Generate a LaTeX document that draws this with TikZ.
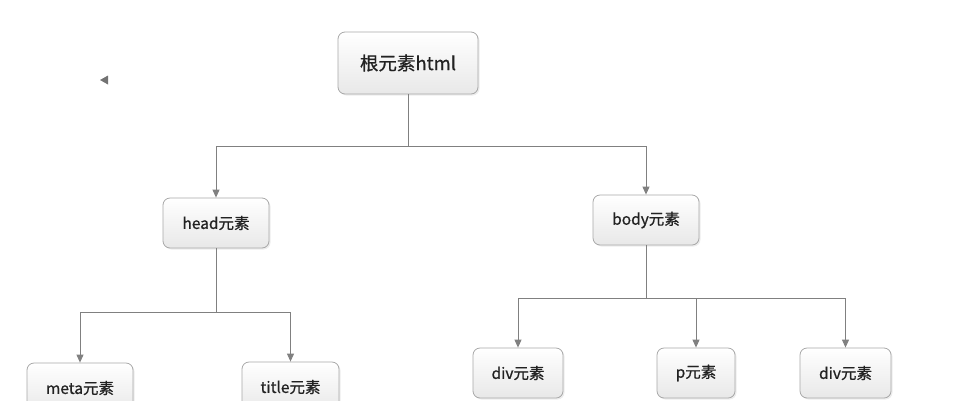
\documentclass[tikz,border=0pt]{standalone}
\usepackage{fontspec}
\setmainfont{Noto Sans CJK SC}[FakeBold=0.7]
\usetikzlibrary{arrows.meta,shadows}
\definecolor{linegray}{HTML}{808080}
\definecolor{boxgray}{HTML}{A8A8A8}
\definecolor{textgray}{HTML}{222222}
\tikzset{
  box/.style={draw=boxgray, line width=0.8pt, rounded corners=7pt,
    top color=white, bottom color=black!9, text=textgray,
    drop shadow={opacity=0.15, shadow xshift=1.5pt, shadow yshift=-1.5pt},
    inner sep=0pt, font=\fontsize{15.5}{18}\selectfont},
  conn/.style={draw=linegray, line width=1pt, -{Triangle[length=8pt,width=7pt]}},
  plain/.style={draw=linegray, line width=1pt}
}
\begin{document}
\begin{tikzpicture}[x=1pt,y=-1pt]
\useasboundingbox (0,0) rectangle (963,400);
\node[box, minimum width=140pt, minimum height=62pt, font=\fontsize{18.5}{22}\selectfont] (root) at (408,63) {根元素html};
\node[box, minimum width=106pt, minimum height=50pt] (head) at (216,223) {head元素};
\node[box, minimum width=106pt, minimum height=50pt] (body) at (646,220) {body元素};
\node[box, minimum width=106pt, minimum height=50pt] (meta) at (80,388) {meta元素};
\node[box, minimum width=97pt, minimum height=50pt] (title) at (290.5,387) {title元素};
\node[box, minimum width=90pt, minimum height=50pt] (div1) at (518,373) {div元素};
\node[box, minimum width=78pt, minimum height=50pt] (p) at (696,373) {p元素};
\node[box, minimum width=91pt, minimum height=50pt] (div2) at (845.5,373) {div元素};
% stray arrowhead
\fill[linegray!90!black] (100,80) -- (108,75.5) -- (108,84.5) -- cycle;
% connectors
\coordinate (j1) at (408,146);
\coordinate (j2) at (216,312);
\coordinate (j3) at (646,298);
\draw[plain] (root.south) -- (j1);
\draw[conn] (j1) -| (head.north);
\draw[conn] (j1) -| (body.north);
\draw[plain] (head.south) -- (j2);
\draw[conn] (j2) -| (meta.north);
\draw[conn] (j2) -| (title.north);
\draw[plain] (body.south) -- (j3);
\draw[conn] (j3) -| (div1.north);
\draw[conn] (j3) -| (p.north);
\draw[conn] (j3) -| (div2.north);
\end{tikzpicture}
\end{document}
